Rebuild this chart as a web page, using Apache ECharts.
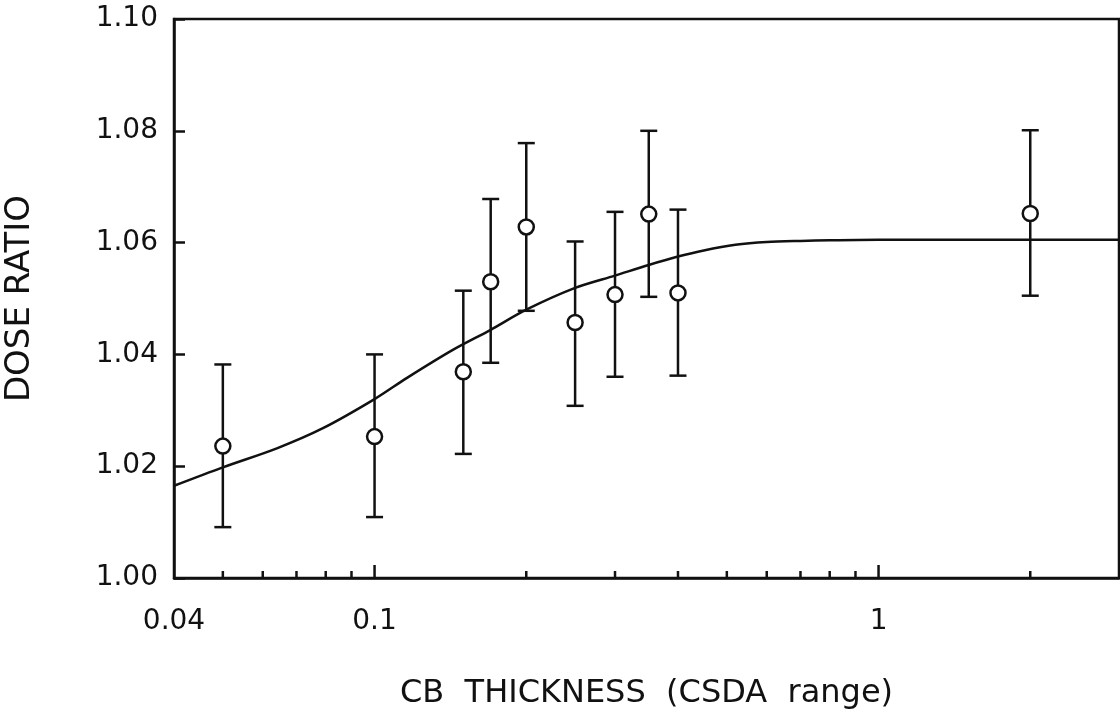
<!DOCTYPE html>
<html>
<head>
<meta charset="utf-8">
<title>Dose ratio vs CB thickness</title>
<script src="https://cdn.jsdelivr.net/npm/echarts@6/dist/echarts.min.js"></script>
<style>
  html, body { margin: 0; padding: 0; background: #ffffff; }
  #chart { width: 1120px; height: 709px; }
</style>
</head>
<body>
<div id="chart"></div>
<script>
// Measured points: CB thickness (in CSDA range units) and dose ratio with error limits
const thickness = [0.05, 0.1, 0.15, 0.17, 0.2, 0.25, 0.3, 0.35, 0.4, 2.0];
const doseRatio = [1.0236, 1.0253, 1.0369, 1.0530, 1.0628, 1.0457, 1.0507, 1.0651, 1.0510, 1.0652];
const errLow    = [1.0091, 1.0109, 1.0222, 1.0385, 1.0478, 1.0308, 1.0360, 1.0503, 1.0362, 1.0505];
const errHigh   = [1.0382, 1.0400, 1.0514, 1.0678, 1.0778, 1.0602, 1.0655, 1.0800, 1.0659, 1.0801];

// Fitted curve
const fitX = [0.04, 0.05, 0.064, 0.079, 0.1, 0.116, 0.143, 0.17, 0.2, 0.25, 0.3, 0.35, 0.4, 0.45, 0.52, 0.6, 0.7, 0.8, 1, 2, 3];
const fitY = [1.0165, 1.0198, 1.0232, 1.0268, 1.0320, 1.0358, 1.0408, 1.0444, 1.0480, 1.0519, 1.0541, 1.0560, 1.0575, 1.0586, 1.0596, 1.0601, 1.0603, 1.0604, 1.0605, 1.0605, 1.0605];

// Axis ticks and labels
const xLabelValues = [0.04, 0.1, 1];
const xLabelTexts = ['0.04', '0.1', '1'];
const xMajorTicks = [0.1, 1];
const xMinorTicks = [0.05, 0.06, 0.07, 0.08, 0.09, 0.2, 0.3, 0.4, 0.5, 0.6, 0.7, 0.8, 0.9, 2];

const X_MIN = 0.04, X_MAX = 3;
const Y_MIN = 1.0, Y_MAX = 1.1, Y_STEP = 0.02;

const INK = '#111111';
const FONT = 'DejaVu Sans';

const chart = echarts.init(document.getElementById('chart'), null, { renderer: 'canvas' });

function tickSeries(values, len) {
  return {
    type: 'custom',
    silent: true,
    z: 5,
    data: values.map(v => [v, Y_MIN]),
    renderItem: function (params, api) {
      const p = api.coord([api.value(0), Y_MIN]);
      return {
        type: 'line',
        shape: { x1: p[0], y1: p[1], x2: p[0], y2: p[1] - len },
        style: { stroke: INK, lineWidth: 2.5 }
      };
    }
  };
}

const option = {
  backgroundColor: '#ffffff',
  animation: false,
  grid: {
    left: 174, right: 1, top: 19, bottom: 131,
    outerBoundsMode: 'none',
    containLabel: false,
    show: true,
    borderColor: INK,
    borderWidth: 2.5,
    backgroundColor: 'transparent'
  },
  xAxis: {
    type: 'log',
    logBase: 10,
    min: X_MIN,
    max: X_MAX,
    name: 'CB  THICKNESS  (CSDA  range)',
    nameLocation: 'middle',
    nameGap: 100,
    nameTextStyle: { fontFamily: FONT, fontSize: 32, color: INK },
    axisLine: { show: true, lineStyle: { color: INK, width: 2.5 } },
    axisTick: { show: false },
    splitLine: { show: false },
    axisLabel: {
      show: true,
      showMinLabel: true,
      showMaxLabel: false,
      margin: 30,
      fontFamily: FONT,
      fontSize: 28,
      color: INK,
      formatter: function (v) {
        for (let i = 0; i < xLabelValues.length; i++) {
          if (Math.abs(Math.log10(v) - Math.log10(xLabelValues[i])) < 1e-6) return xLabelTexts[i];
        }
        return '';
      }
    }
  },
  yAxis: {
    type: 'value',
    min: Y_MIN,
    max: Y_MAX,
    interval: Y_STEP,
    name: 'DOSE RATIO',
    nameLocation: 'middle',
    nameGap: 137,
    nameRotate: 90,
    nameTextStyle: { fontFamily: FONT, fontSize: 34, color: INK },
    axisLine: { show: true, lineStyle: { color: INK, width: 2.5 } },
    axisTick: { show: true, inside: true, length: 11, lineStyle: { color: INK, width: 2.5 } },
    splitLine: { show: false },
    axisLabel: {
      margin: 16,
      fontFamily: FONT,
      fontSize: 28,
      color: INK,
      formatter: v => v.toFixed(2)
    }
  },
  series: [
    tickSeries(xMinorTicks, 7),
    tickSeries(xMajorTicks, 13),
    {
      name: 'fit',
      type: 'line',
      data: fitX.map((x, i) => [x, fitY[i]]),
      smooth: 0.3,
      showSymbol: false,
      symbol: 'none',
      lineStyle: { color: INK, width: 2.5 },
      z: 3,
      silent: true
    },
    {
      name: 'error',
      type: 'custom',
      silent: true,
      z: 4,
      data: thickness.map((x, i) => [x, errLow[i], errHigh[i]]),
      encode: { x: 0, y: [1, 2] },
      renderItem: function (params, api) {
        const lo = api.coord([api.value(0), api.value(1)]);
        const hi = api.coord([api.value(0), api.value(2)]);
        const half = 8.5;
        const st = { stroke: INK, lineWidth: 2.5 };
        return {
          type: 'group',
          children: [
            { type: 'line', shape: { x1: lo[0], y1: lo[1], x2: hi[0], y2: hi[1] }, style: st },
            { type: 'line', shape: { x1: lo[0] - half, y1: lo[1], x2: lo[0] + half, y2: lo[1] }, style: st },
            { type: 'line', shape: { x1: hi[0] - half, y1: hi[1], x2: hi[0] + half, y2: hi[1] }, style: st }
          ]
        };
      }
    },
    {
      name: 'measured',
      type: 'scatter',
      data: thickness.map((x, i) => [x, doseRatio[i]]),
      symbol: 'circle',
      symbolSize: 15,
      itemStyle: { color: '#ffffff', borderColor: INK, borderWidth: 2.5, opacity: 1 },
      z: 6,
      silent: true
    }
  ]
};

chart.setOption(option);
</script>
</body>
</html>
